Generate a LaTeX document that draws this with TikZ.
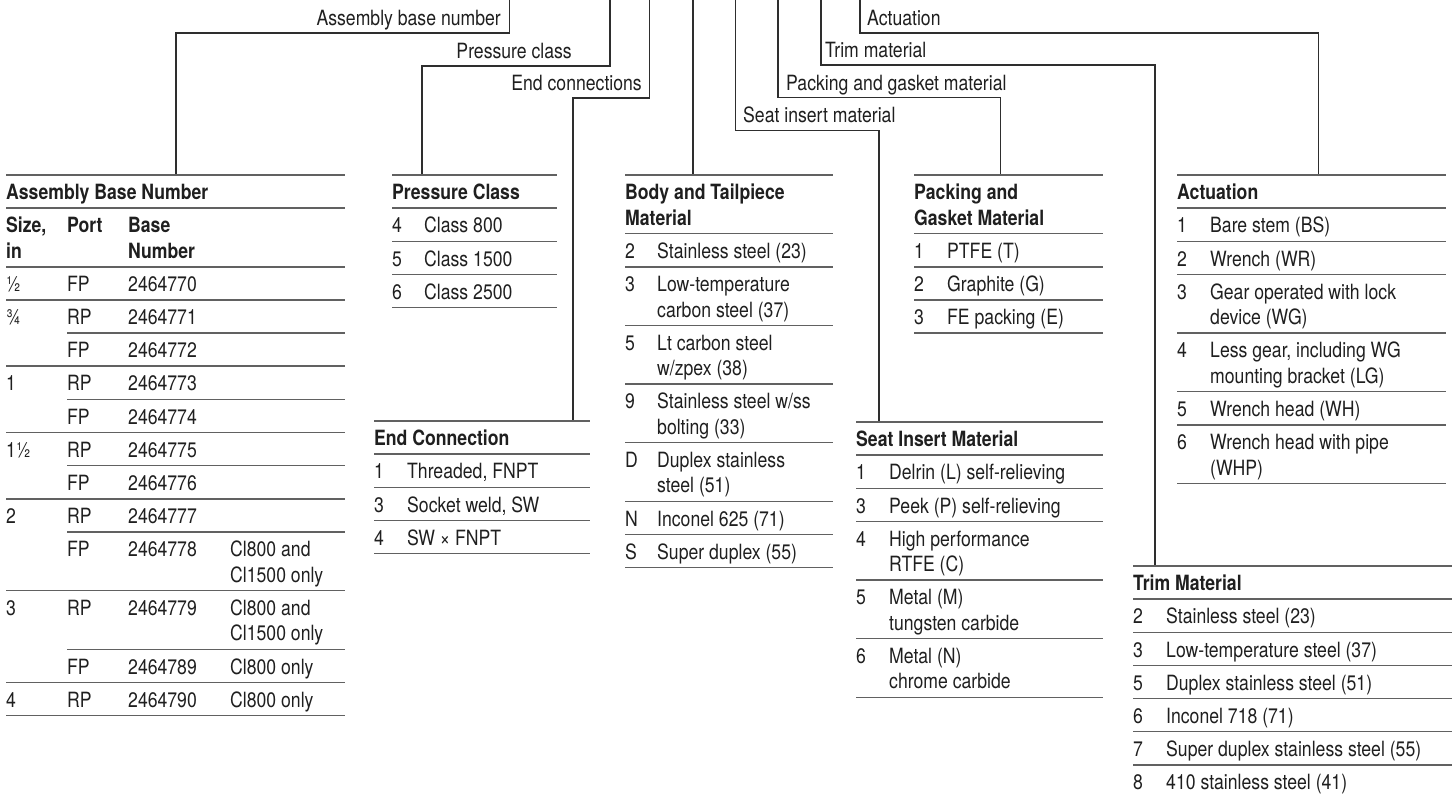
\documentclass[tikz,border=0pt]{standalone}
\usepackage{fontspec}
\setmainfont{TeX Gyre Heros}[FakeStretch=0.84]
\usepackage{xcolor}
\usepackage{array}
\usepackage{colortbl}
\usepackage{tikz}
\usetikzlibrary{positioning}
\newcolumntype{L}[1]{>{\raggedright\arraybackslash}p{#1}}
\setlength{\arrayrulewidth}{1.5pt}
\setlength{\extrarowheight}{6.15pt}
\arrayrulecolor{black!62}
\newcommand{\tabfont}{\fontsize{21}{25.5}\selectfont}
\newcommand{\portrule}{\cline{2-4}\noalign{\vskip\arrayrulewidth}}
\tikzstyle{tbl} = [anchor=north west, inner sep=0pt]
\tikzstyle{conn} = [draw, line width=1.2pt, black!82]
\tikzstyle{lblL} = [anchor=base east, inner sep=0pt]
\tikzstyle{lblR} = [anchor=base west, inner sep=0pt]

\begin{document}
\begin{tikzpicture}[x=1pt, y=-1pt, font=\tabfont, text=black!88]
    \useasboundingbox (0,0) rectangle (1452,796);

    % Tables
    \node [tbl] (asm) at (6,174) {\begin{tabular}{@{}L{61pt}@{}L{61pt}@{}L{102pt}@{}L{115pt}@{}}
        \hline
        \multicolumn{4}{@{}l@{}}{\bfseries Assembly Base Number}\\ \hline
        \bfseries Size,\newline in & \bfseries Port & \bfseries Base\newline Number & \\ \hline
        ½ & FP & 2464770 & \\ \hline
        ¾ & RP & 2464771 & \\ \portrule
          & FP & 2464772 & \\ \hline
        1 & RP & 2464773 & \\ \portrule
          & FP & 2464774 & \\ \hline
        1½ & RP & 2464775 & \\ \portrule
          & FP & 2464776 & \\ \hline
        2 & RP & 2464777 & \\ \portrule
          & FP & 2464778 & Cl800 and\newline Cl1500 only\\ \hline
        3 & RP & 2464779 & Cl800 and\newline Cl1500 only\\ \portrule
          & FP & 2464789 & Cl800 only\\ \hline
        4 & RP & 2464790 & Cl800 only\\ \hline
    \end{tabular}};

    \node [tbl] (press) at (392,174) {\begin{tabular}{@{}L{32pt}@{}L{133pt}@{}}
        \hline
        \multicolumn{2}{@{}l@{}}{\bfseries Pressure Class}\\ \hline
        4 & Class 800\\ \hline
        5 & Class 1500\\ \hline
        6 & Class 2500\\ \hline
    \end{tabular}};

    \node [tbl] (endc) at (374,420) {\begin{tabular}{@{}L{33pt}@{}L{183pt}@{}}
        \hline
        \multicolumn{2}{@{}l@{}}{\bfseries End Connection}\\ \hline
        1 & Threaded, FNPT\\ \hline
        3 & Socket weld, SW\\ \hline
        4 & SW × FNPT\\ \hline
    \end{tabular}};

    \node [tbl] (body) at (625,174) {\begin{tabular}{@{}L{32pt}@{}L{176pt}@{}}
        \hline
        \multicolumn{2}{@{}L{208pt}@{}}{\bfseries Body and Tailpiece\newline Material}\\ \hline
        2 & Stainless steel (23)\\ \hline
        3 & Low-temperature\newline carbon steel (37)\\ \hline
        5 & Lt carbon steel\newline w/zpex (38)\\ \hline
        9 & Stainless steel w/ss\newline bolting (33)\\ \hline
        D & Duplex stainless\newline steel (51)\\ \hline
        N & Inconel 625 (71)\\ \hline
        S & Super duplex (55)\\ \hline
    \end{tabular}};

    \node [tbl] (pack) at (914,174) {\begin{tabular}{@{}L{33pt}@{}L{156pt}@{}}
        \hline
        \multicolumn{2}{@{}L{189pt}@{}}{\bfseries Packing and\newline Gasket Material}\\ \hline
        1 & PTFE (T)\\ \hline
        2 & Graphite (G)\\ \hline
        3 & FE packing (E)\\ \hline
    \end{tabular}};

    \node [tbl] (seat) at (856,421) {\begin{tabular}{@{}L{33pt}@{}L{214pt}@{}}
        \hline
        \multicolumn{2}{@{}l@{}}{\bfseries Seat Insert Material}\\ \hline
        1 & Delrin (L) self-relieving\\ \hline
        3 & Peek (P) self-relieving\\ \hline
        4 & High performance\newline RTFE (C)\\ \hline
        5 & Metal (M)\newline tungsten carbide\\ \hline
        6 & Metal (N)\newline chrome carbide\\ \hline
    \end{tabular}};

    \node [tbl] (act) at (1177,174) {\begin{tabular}{@{}L{33pt}@{}L{236pt}@{}}
        \hline
        \multicolumn{2}{@{}l@{}}{\bfseries Actuation}\\ \hline
        1 & Bare stem (BS)\\ \hline
        2 & Wrench (WR)\\ \hline
        3 & Gear operated with lock\newline device (WG)\\ \hline
        4 & Less gear, including WG\newline mounting bracket (LG)\\ \hline
        5 & Wrench head (WH)\\ \hline
        6 & Wrench head with pipe\newline (WHP)\\ \hline
    \end{tabular}};

    \node [tbl] (trim) at (1133,565) {\begin{tabular}{@{}L{33pt}@{}L{286pt}@{}}
        \hline
        \multicolumn{2}{@{}l@{}}{\bfseries Trim Material}\\ \hline
        2 & Stainless steel (23)\\ \hline
        3 & Low-temperature steel (37)\\ \hline
        5 & Duplex stainless steel (51)\\ \hline
        6 & Inconel 718 (71)\\ \hline
        7 & Super duplex stainless steel (55)\\ \hline
        8 & 410 stainless steel (41)\\
    \end{tabular}};

    % Labels
    \node [lblL] (asmLbl) at (501,25.5) {Assembly base number};
    \node [lblL] (pressLbl) at (572,58) {Pressure class};
    \node [lblL] (endcLbl) at (642,90) {End connections};
    \node [lblR] (seatLbl) at (743,122.5) {Seat insert material};
    \node [lblR] (packLbl) at (786,90) {Packing and gasket material};
    \node [lblR] (trimLbl) at (825,57.5) {Trim material};
    \node [lblR] (actLbl) at (867,25) {Actuation};

    % Lines
    \coordinate (asmTop) at (509.5,0);
    \coordinate (asmBend) at (176,33);
    \coordinate (pressTop) at (610,0);
    \coordinate (pressBend) at (422,66);
    \coordinate (endcTop) at (649.5,0);
    \coordinate (endcBend) at (573,98);
    \coordinate (bodyTop) at (693,0);
    \coordinate (seatTop) at (735.5,0);
    \coordinate (seatBend) at (879,130.5);
    \coordinate (packTop) at (778,0);
    \coordinate (packBend) at (1000.5,97.5);
    \coordinate (trimTop) at (821,0);
    \coordinate (trimBend) at (1155,65);
    \coordinate (actTop) at (860,0);
    \coordinate (actBend) at (1318.5,33);

    \path [conn] (asmTop) |- (asmBend) -- (asmBend |- asm.north);
    \path [conn] (pressTop) |- (pressBend) -- (pressBend |- press.north);
    \path [conn] (endcTop) |- (endcBend) -- (endcBend |- endc.north);
    \path [conn] (bodyTop) -- (bodyTop |- body.north);
    \path [conn] (seatTop) |- (seatBend) -- (seatBend |- seat.north);
    \path [conn] (packTop) |- (packBend) -- (packBend |- pack.north);
    \path [conn] (trimTop) |- (trimBend) -- (trimBend |- trim.north);
    \path [conn] (actTop) |- (actBend) -- (actBend |- act.north);
\end{tikzpicture}
\end{document}
